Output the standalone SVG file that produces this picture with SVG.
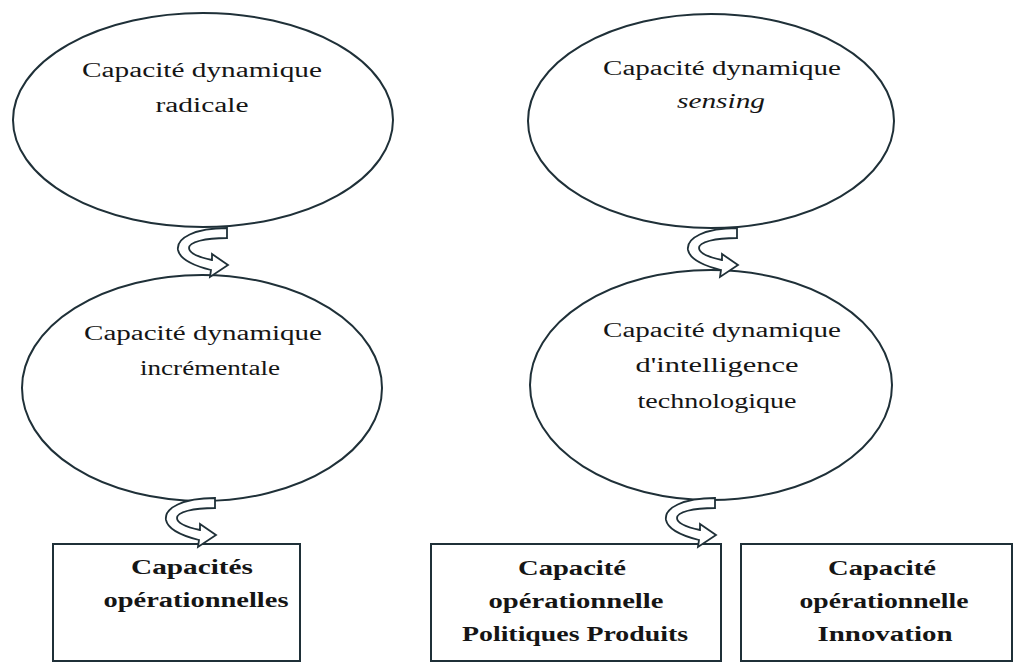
<svg xmlns="http://www.w3.org/2000/svg" xmlns:xlink="http://www.w3.org/1999/xlink" width="1018" height="664" viewBox="0 0 1018 664">
<style>
.shape{fill:#ffffff;stroke:#1f3038;stroke-width:2}
.arr{fill:#ffffff;stroke:#1f3038;stroke-width:1.8;stroke-linejoin:miter}
.t{font-family:"Liberation Serif","Times New Roman",serif;font-size:20px;fill:#151515;text-anchor:middle}
.b{font-weight:bold}
.i{font-style:italic}
</style>
<defs>
<path id="uturn" d="M 51,1 C 19,1 0,11 2,23 C 4,33 19,39 35,43 L 34,50 L 52,38 L 36,27 L 36,33 C 22,30 13,26 13,21 C 13,15 29,11 51,11 Z"/>
</defs>
<rect width="1018" height="664" fill="#ffffff"/>
<g id="n1">
<ellipse class="shape" cx="203" cy="120" rx="190" ry="107"/>
<text class="t" x="202" y="77" textLength="240" lengthAdjust="spacingAndGlyphs">Capacité dynamique</text>
<text class="t" x="202" y="112" textLength="93" lengthAdjust="spacingAndGlyphs">radicale</text>
</g>
<g id="n2">
<ellipse class="shape" cx="202" cy="388" rx="180" ry="113"/>
<text class="t" x="203" y="340" textLength="238" lengthAdjust="spacingAndGlyphs">Capacité dynamique</text>
<text class="t" x="210" y="375" textLength="140" lengthAdjust="spacingAndGlyphs">incrémentale</text>
</g>
<g id="n3">
<ellipse class="shape" cx="711" cy="121" rx="183" ry="107"/>
<text class="t" x="722" y="75" textLength="238" lengthAdjust="spacingAndGlyphs">Capacité dynamique</text>
<text class="t i" x="721" y="108" textLength="88" lengthAdjust="spacingAndGlyphs">sensing</text>
</g>
<g id="n4">
<ellipse class="shape" cx="711" cy="385" rx="181" ry="115"/>
<text class="t" x="722" y="337" textLength="238" lengthAdjust="spacingAndGlyphs">Capacité dynamique</text>
<text class="t" x="717" y="372" textLength="163" lengthAdjust="spacingAndGlyphs">d'intelligence</text>
<text class="t" x="717" y="408" textLength="159" lengthAdjust="spacingAndGlyphs">technologique</text>
</g>
<g id="n5">
<rect class="shape" x="53" y="544" width="247" height="117"/>
<text class="t b" x="192" y="574" textLength="122" lengthAdjust="spacingAndGlyphs">Capacités</text>
<text class="t b" x="196" y="607" textLength="185" lengthAdjust="spacingAndGlyphs">opérationnelles</text>
</g>
<g id="n6">
<rect class="shape" x="431" y="544" width="290" height="117"/>
<text class="t b" x="572" y="575" textLength="108" lengthAdjust="spacingAndGlyphs">Capacité</text>
<text class="t b" x="576" y="608" textLength="175" lengthAdjust="spacingAndGlyphs">opérationnelle</text>
<text class="t b" x="575" y="641" textLength="226" lengthAdjust="spacingAndGlyphs">Politiques Produits</text>
</g>
<g id="n7">
<rect class="shape" x="741" y="544" width="271" height="117"/>
<text class="t b" x="882" y="575" textLength="108" lengthAdjust="spacingAndGlyphs">Capacité</text>
<text class="t b" x="884" y="608" textLength="169" lengthAdjust="spacingAndGlyphs">opérationnelle</text>
<text class="t b" x="885" y="641" textLength="135" lengthAdjust="spacingAndGlyphs">Innovation</text>
</g>
<g id="connectors">
<use xlink:href="#uturn" class="arr" transform="translate(176,227)"/>
<use xlink:href="#uturn" class="arr" transform="translate(686,227)"/>
<use xlink:href="#uturn" class="arr" transform="translate(164,497)"/>
<use xlink:href="#uturn" class="arr" transform="translate(664,497)"/>
</g>
</svg>
